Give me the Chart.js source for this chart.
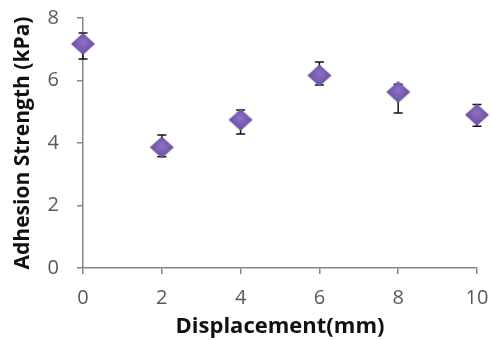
<!DOCTYPE html>
<html>
<head>
<meta charset="utf-8">
<script src="https://cdn.jsdelivr.net/npm/chart.js@4.4.1/dist/chart.umd.min.js"></script>
<style>
  html, body { margin: 0; padding: 0; background: #fff; }
  #wrap { width: 491px; height: 340px; }
</style>
</head>
<body>
<div id="wrap"><canvas id="myChart" width="491" height="340"></canvas></div>
<script>
const displacement = [0, 2, 4, 6, 8, 10];
const strength = [7.17, 3.86, 4.74, 6.16, 5.63, 4.9];
const errUp = [0.35, 0.4, 0.32, 0.43, 0.25, 0.33];
const errDown = [0.48, 0.3, 0.45, 0.3, 0.67, 0.36];
const yTicks = [0, 2, 4, 6, 8];
const xTicks = [0, 2, 4, 6, 8, 10];

const axisColor = '#868686';
const tickFont = { family: 'Open Sans', size: 20 };
const titleFont = { family: 'Open Sans', size: 22, weight: 'bold' };

// flattened diamond marker, like the Excel one
function makeDiamond() {
  const w = 26, h = 23;
  const c = document.createElement('canvas');
  c.width = w; c.height = h;
  const g = c.getContext('2d');
  const grad = g.createRadialGradient(w / 2, h / 2 - 2, 1, w / 2, h / 2, w / 2);
  grad.addColorStop(0, '#8a6fc2');
  grad.addColorStop(1, '#654a9a');
  g.fillStyle = grad;
  g.beginPath();
  g.moveTo(w / 2, 0.5);
  g.lineTo(w - 1, h / 2);
  g.lineTo(w / 2, h - 0.5);
  g.lineTo(1, h / 2);
  g.closePath();
  g.fill();
  return c;
}

// error bars drawn under the markers
const errorBars = {
  id: 'errorBars',
  beforeDatasetsDraw(chart) {
    const ctx = chart.ctx;
    const xs = chart.scales.x, ys = chart.scales.y;
    ctx.save();
    ctx.strokeStyle = '#111';
    ctx.lineWidth = 1.5;
    for (let i = 0; i < strength.length; i++) {
      const x = xs.getPixelForValue(displacement[i]);
      const top = ys.getPixelForValue(strength[i] + errUp[i]);
      const bot = ys.getPixelForValue(strength[i] - errDown[i]);
      ctx.beginPath();
      ctx.moveTo(x, top); ctx.lineTo(x, bot);
      ctx.moveTo(x - 4.5, top); ctx.lineTo(x + 4.5, top);
      ctx.moveTo(x - 4.5, bot); ctx.lineTo(x + 4.5, bot);
      ctx.stroke();
    }
    ctx.restore();
  }
};

const ctx = document.getElementById('myChart').getContext('2d');
const myChart = new Chart(ctx, {
  type: 'scatter',
  data: {
    datasets: [{
      data: displacement.map((d, i) => ({ x: d, y: strength[i] })),
      pointStyle: makeDiamond(),
      pointRadius: 12,
      pointHoverRadius: 12,
      clip: false
    }]
  },
  options: {
    responsive: false,
    animation: false,
    layout: { padding: { top: 18, right: 14, left: 0, bottom: 0 } },
    plugins: { legend: { display: false }, tooltip: { enabled: false } },
    scales: {
      x: {
        type: 'linear',
        min: 0, max: 10,
        afterBuildTicks(axis) { axis.ticks = xTicks.map(v => ({ value: v })); },
        afterFit(axis) { axis.height = 72; axis.paddingLeft = 0; axis.paddingRight = 0; },
        grid: { drawOnChartArea: false, drawTicks: true, tickLength: 6, color: axisColor, lineWidth: 1.5 },
        border: { display: true, color: axisColor, width: 1.5 },
        ticks: { color: '#595959', font: tickFont, padding: 12, maxRotation: 0 },
        title: { display: true, text: 'Displacement(mm)', color: '#111', font: titleFont, padding: { top: 0, bottom: 0 } }
      },
      y: {
        min: 0, max: 8,
        afterBuildTicks(axis) { axis.ticks = yTicks.map(v => ({ value: v })); },
        afterFit(axis) { axis.width = 83; axis.paddingTop = 0; axis.paddingBottom = 0; },
        grid: { drawOnChartArea: false, drawTicks: true, tickLength: 6, color: axisColor, lineWidth: 1.5 },
        border: { display: true, color: axisColor, width: 1.5 },
        ticks: { color: '#595959', font: tickFont, padding: 18 },
        title: { display: true, text: 'Adhesion Strength (kPa)', color: '#111', font: { family: 'Open Sans', size: 21, weight: 'bold' }, padding: { top: 10, bottom: 0 } }
      }
    }
  },
  plugins: [errorBars]
});
</script>
</body>
</html>
